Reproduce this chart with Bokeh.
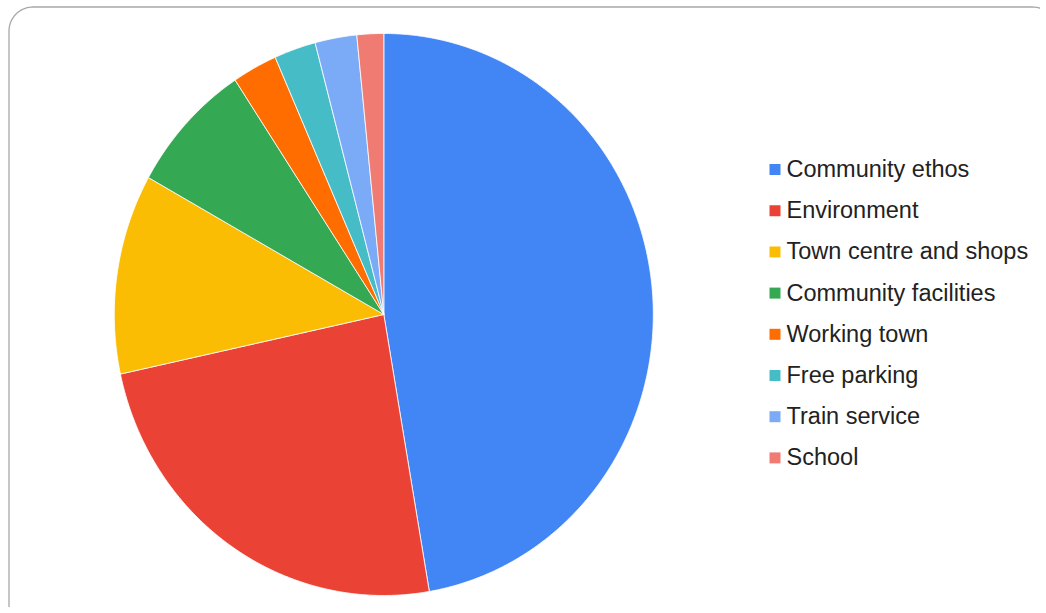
import numpy as np
from bokeh.plotting import figure
from bokeh.models import Range1d, ColumnDataSource
from bokeh.embed import file_html
from bokeh.resources import INLINE
from bokeh.core.properties import value

# ---- data ----
categories = ["Community ethos", "Environment", "Town centre and shops",
              "Community facilities", "Working town", "Free parking",
              "Train service", "School"]
shares = [47.3, 24.3, 11.5, 7.6, 2.7, 2.5, 2.5, 1.6]
colors = ["#4285F4", "#EA4335", "#FBBC04", "#34A853", "#FF6D01",
          "#46BDC6", "#7BAAF7", "#F07B72"]

# ---- layout (pixel-mapped canvas) ----
W, H = 1040, 607
p = figure(width=W, height=H, x_range=Range1d(0, W), y_range=Range1d(H, 0),
           output_backend="svg", toolbar_location=None, min_border=0,
           x_axis_type=None, y_axis_type=None)
p.grid.visible = False
p.outline_line_color = None
p.background_fill_color = "white"
p.border_fill_color = "white"

# rounded card border
def rounded_rect(x0, y0, x1, y1, r, n=20):
    xs, ys = [], []
    corners = [(x1 - r, y0 + r, -np.pi / 2, 0), (x1 - r, y1 - r, 0, np.pi / 2),
               (x0 + r, y1 - r, np.pi / 2, np.pi), (x0 + r, y0 + r, np.pi, 1.5 * np.pi)]
    for cx, cy, a0, a1 in corners:
        t = np.linspace(a0, a1, n)
        xs.extend(cx + r * np.cos(t))
        ys.extend(cy + r * np.sin(t))
    xs.append(xs[0]); ys.append(ys[0])
    return xs, ys

bx, by = rounded_rect(8.5, 6.5, 1056, 650, 24)
p.line(bx, by, line_color="#a8a8a8", line_width=1.3)

# pie (slightly elliptical, as in the reference)
cx, cy, rx, ry = 383.3, 314.0, 269.5, 281.0
total = sum(shares)
ends = np.cumsum(shares) / total * 2 * np.pi
starts = np.concatenate([[0.0], ends[:-1]])
pxs, pys = [], []
for a0, a1 in zip(starts, ends):
    n = max(3, int((a1 - a0) / (2 * np.pi) * 720))
    t = np.linspace(a0, a1, n)
    pxs.append([cx] + list(cx + rx * np.sin(t)))
    pys.append([cy] + list(cy - ry * np.cos(t)))
p.patches(xs="xs", ys="ys", fill_color="color", line_color="white", line_width=0.8,
          source=ColumnDataSource(dict(xs=pxs, ys=pys, color=colors)))

# legend
idx = np.arange(len(categories))
rows = 169 + idx * 41.2
p.rect(x=774.5, y=rows, width=11, height=11, fill_color=colors, line_color=None)
p.text(x=786, y=rows - 0.5, text=categories, text_font=value("Liberation Sans"),
       text_font_size="23.5px", text_color="#222222", text_baseline="middle",
       text_align="left")

open("out.html", "w").write(file_html(p, INLINE))
